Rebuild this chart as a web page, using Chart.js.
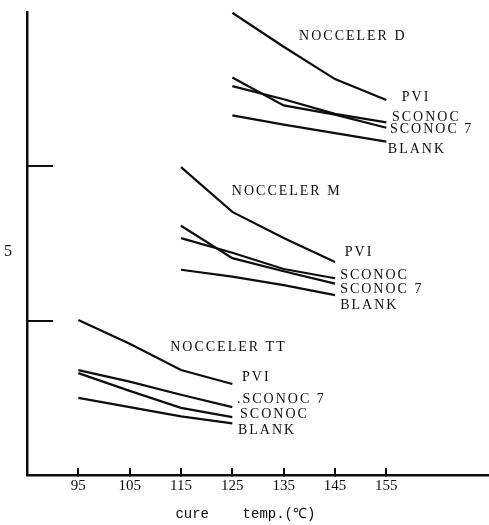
<!DOCTYPE html>
<html>
<head>
<meta charset="utf-8">
<script src="https://cdn.jsdelivr.net/npm/chart.js@4.4.1/dist/chart.umd.min.js"></script>
<style>
  body { margin: 0; background: #fff; }
  #cureChart { display: block; }
</style>
</head>
<body>
<canvas id="cureChart" width="489" height="525"></canvas>
<script>
// cure temperatures for each accelerator group
const tempsTT = [95, 105, 115, 125];
const tempsM = [115, 125, 135, 145];
const tempsD = [125, 135, 145, 155];

// NOCCELER TT
const ttPVI = [4.01, 3.70, 3.36, 3.18];
const ttSconoc7 = [3.36, 3.21, 3.04, 2.88];
const ttSconoc = [3.32, 3.09, 2.87, 2.75];
const ttBlank = [3.00, 2.88, 2.76, 2.67];

// NOCCELER M
const mPVI = [5.99, 5.41, 5.07, 4.76];
const mSconoc7 = [5.23, 4.81, 4.64, 4.48];
const mSconoc = [5.07, 4.88, 4.67, 4.55];
const mBlank = [4.66, 4.57, 4.46, 4.33];

// NOCCELER D
const dPVI = [7.99, 7.55, 7.13, 6.86];
const dSconoc7 = [7.15, 6.79, 6.67, 6.50];
const dSconoc = [7.04, 6.87, 6.68, 6.57];
const dBlank = [6.66, 6.54, 6.43, 6.32];

// axis ticks
const xTicks = [95, 105, 115, 125, 135, 145, 155];
const yTicks = [4, 5, 6];
const yLabelled = [5];

// text written on the plot (temp, value)
const noteTexts = [
  "NOCCELER D", "PVI", "SCONOC", "SCONOC 7", "BLANK",
  "NOCCELER M", "PVI", "SCONOC", "SCONOC 7", "BLANK",
  "NOCCELER TT", "PVI", ".SCONOC 7", "SCONOC", "BLANK"
];
const noteTemps = [
  138.0, 158.0, 156.1, 155.7, 155.3,
  124.9, 146.9, 146.0, 146.0, 146.0,
  112.9, 126.9, 125.9, 126.5, 126.1
];
const noteValues = [
  7.68, 6.90, 6.64, 6.48, 6.22,
  5.68, 4.88, 4.59, 4.40, 4.20,
  3.65, 3.26, 2.98, 2.79, 2.58
];

const groups = [
  { temps: tempsD, series: [dPVI, dSconoc, dSconoc7, dBlank] },
  { temps: tempsM, series: [mPVI, mSconoc, mSconoc7, mBlank] },
  { temps: tempsTT, series: [ttPVI, ttSconoc7, ttSconoc, ttBlank] }
];

const ink = "#0d0d0d";

const datasets = [];
groups.forEach(group => {
  group.series.forEach(values => {
    datasets.push({
      data: values.map((v, i) => ({ x: group.temps[i], y: v })),
      borderColor: ink,
      borderWidth: 2.2,
      pointRadius: 0,
      tension: 0,
      fill: false
    });
  });
});

// writes the curve names at their data positions
const notesPlugin = {
  id: "notes",
  afterDatasetsDraw(chart) {
    const { ctx, scales } = chart;
    ctx.save();
    ctx.font = "14px 'Liberation Serif'";
    ctx.letterSpacing = "2px";
    ctx.fillStyle = ink;
    ctx.textAlign = "left";
    ctx.textBaseline = "middle";
    noteTexts.forEach((text, i) => {
      ctx.fillText(text, scales.x.getPixelForValue(noteTemps[i]), scales.y.getPixelForValue(noteValues[i]));
    });
    ctx.restore();
  }
};

new Chart(document.getElementById("cureChart"), {
  type: "line",
  data: { datasets },
  options: {
    responsive: false,
    animation: false,
    layout: { padding: { top: 12, left: 0, right: 0, bottom: 0 } },
    plugins: {
      legend: { display: false },
      tooltip: { enabled: false }
    },
    scales: {
      x: {
        type: "linear",
        min: 85,
        max: 175,
        afterBuildTicks: scale => { scale.ticks = xTicks.map(v => ({ value: v })); },
        afterFit: scale => { scale.height = 50; },
        grid: { drawOnChartArea: false, tickLength: -7, color: ink, lineWidth: 2 },
        border: { display: true, color: ink, width: 2.5 },
        ticks: {
          color: ink,
          padding: 9,
          maxRotation: 0,
          font: { family: "'Liberation Serif'", size: 15 }
        },
        title: {
          display: true,
          text: "cure    temp.(℃)   ",
          color: ink,
          padding: { top: 0, bottom: 2 },
          font: { family: "'Liberation Mono'", size: 14, lineHeight: 1.2 }
        }
      },
      y: {
        type: "linear",
        min: 2,
        max: 8,
        afterBuildTicks: scale => { scale.ticks = yTicks.map(v => ({ value: v })); },
        afterFit: scale => {
          scale.width = 27;
          scale.paddingTop = 0;
          scale.paddingBottom = 0;
        },
        grid: {
          drawOnChartArea: false,
          tickLength: -26,
          lineWidth: 2,
          color: c => (yLabelled.includes(c.tick && c.tick.value) ? "rgba(0,0,0,0)" : ink)
        },
        border: { display: true, color: ink, width: 2.5 },
        ticks: {
          color: ink,
          padding: 41,
          labelOffset: 8,
          font: { family: "'Liberation Serif'", size: 16 },
          callback: v => (yLabelled.includes(v) ? String(v) : "")
        }
      }
    }
  },
  plugins: [notesPlugin]
});
</script>
</body>
</html>
